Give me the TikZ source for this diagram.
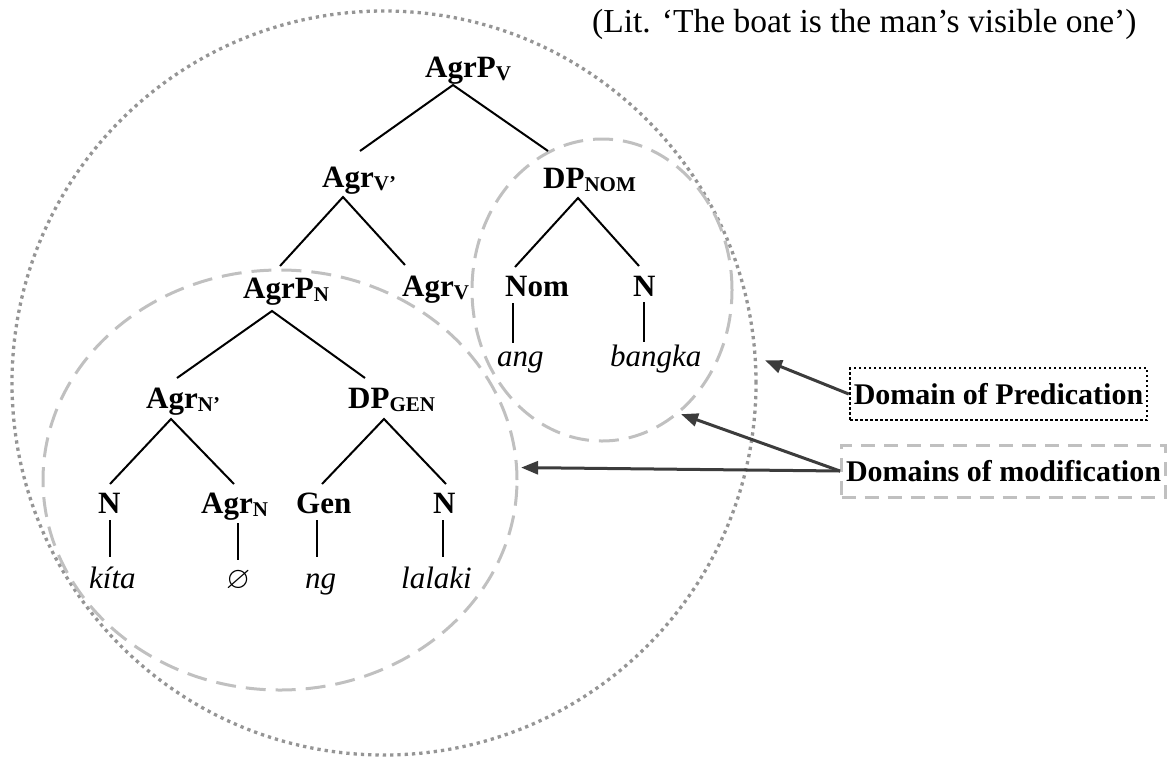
\documentclass[tikz,border=0pt]{standalone}
\usepackage{graphicx,amssymb}
\usepackage{fontspec}
\setmainfont{Liberation Serif}
\usetikzlibrary{arrows.meta,calc,shapes.geometric}
\definecolor{ringgray}{HTML}{C0C0C0}
\definecolor{dotgray}{HTML}{959595}
\definecolor{arrowgray}{HTML}{3C3C3C}
% lowered small-size subscript for category labels
\newcommand{\lo}[1]{\raisebox{-3pt}{\fontsize{21}{21}\selectfont #1}}
% empty exponent
\newcommand{\nullmark}{\scalebox{1.25}{\fontsize{24.88}{25}\selectfont$\varnothing$}}
\begin{document}
\begin{tikzpicture}[x=1pt,y=-1pt,
  cat/.style={anchor=base west,inner sep=0pt,font=\fontsize{31}{31}\selectfont\bfseries},
  word/.style={anchor=base west,inner sep=0pt,font=\fontsize{31}{31}\selectfont\itshape},
  branch/.style={line width=2pt,black},
  modring/.style={ellipse,draw=ringgray,line width=3pt,dash pattern=on 20pt off 10pt,inner sep=0pt},
  predring/.style={circle,draw=dotgray,line width=3.3pt,dash pattern=on 3.3pt off 4pt,inner sep=0pt},
  pointer/.style={draw=arrowgray,line width=3pt,-{Triangle[length=17pt,width=13pt]}},
  tag/.style={inner sep=0pt,font=\fontsize{30}{30}\selectfont\bfseries,minimum height=52pt}
]
\useasboundingbox (0,0) rectangle (1167,761);

% domain of predication and the two domains of modification
\node[predring,minimum size=744pt] (predC) at (384,383) {};
\node[modring,minimum width=474pt,minimum height=420pt] (modL) at (280,480) {};
\node[modring,minimum width=260pt,minimum height=302pt] (modR) at (602,290) {};

% free translation
\node[anchor=base west,inner sep=0pt,font=\fontsize{33.5}{33.5}\selectfont] (lit) at (592,32)
  {(Lit. ‘The boat is the man’s visible one’)};

% tree labels
\node[cat] (AgrPV) at (425,77) {AgrP\lo{V}};
\node[cat] (AgrVb) at (322,187) {Agr\lo{V’}};
\node[cat] (DPnom) at (543,188) {DP\lo{NOM}};
\node[cat] (AgrPN) at (243,298) {AgrP\lo{N}};
\node[cat] (AgrV) at (402,296) {Agr\lo{V}};
\node[cat] (Nom) at (505,296) {Nom};
\node[cat] (Nn) at (633,296) {N};
\node[word] (ang) at (497,366) {ang};
\node[word] (bangka) at (610,366) {bangka};
\node[cat] (AgrNb) at (146,408) {Agr\lo{N’}};
\node[cat] (DPgen) at (348,408) {DP\lo{GEN}};
\node[cat] (Nk) at (98,513) {N};
\node[cat] (AgrN) at (201,513) {Agr\lo{N}};
\node[cat] (Gen) at (296,513) {Gen};
\node[cat] (Nl) at (433,513) {N};
\node[word] (kita) at (89,588) {kíta};
\node[word] (null) at (226,588) {\nullmark};
\node[word] (ng) at (305,588) {ng};
\node[word] (lalaki) at (401,588) {lalaki};

% branches
\draw[branch] ($(AgrVb.base west)+(38,-36)$) -- ($(AgrPV.base west)+(28,8)$) -- ($(DPnom.base west)+(5,-37)$);
\draw[branch] ($(AgrPN.base west)+(37,-32)$) -- ($(AgrVb.base west)+(21,10)$) -- ($(AgrV.base west)+(3,-31)$);
\draw[branch] ($(Nom.base west)+(10,-29)$) -- ($(DPnom.base west)+(35,10)$) -- ($(Nn.base west)+(6,-30)$);
\draw[branch] ($(Nom.base west)+(8,7)$) -- ($(ang.base west)+(16,-23)$);
\draw[branch] ($(Nn.base west)+(11,6)$) -- ($(bangka.base west)+(34,-24)$);
\draw[branch] ($(AgrNb.base west)+(31,-30)$) -- ($(AgrPN.base west)+(29,13)$) -- ($(DPgen.base west)+(17,-30)$);
\draw[branch] ($(Nk.base west)+(12,-29)$) -- ($(AgrNb.base west)+(25,11)$) -- ($(AgrN.base west)+(33,-29)$);
\draw[branch] ($(Gen.base west)+(26,-29)$) -- ($(DPgen.base west)+(36,11)$) -- ($(Nl.base west)+(13,-29)$);
\draw[branch] ($(Nk.base west)+(12,7)$) -- ($(kita.base west)+(21,-31)$);
\draw[branch] ($(AgrN.base west)+(37,10)$) -- ($(null.base west)+(12,-28)$);
\draw[branch] ($(Gen.base west)+(21,7)$) -- ($(ng.base west)+(12,-31)$);
\draw[branch] ($(Nl.base west)+(10,7)$) -- ($(lalaki.base west)+(42,-31)$);

% legend boxes
\node[tag,draw=black,line width=2.5pt,dash pattern=on 2.5pt off 2.5pt,minimum width=297pt] (predTag) at (998.5,394) {Domain of Predication};
\node[tag,draw=ringgray,line width=3pt,dash pattern=on 14pt off 9pt,minimum width=324pt,anchor=west] (modTag) at (840,471) {Domains of modification};

% pointers
\draw[pointer,shorten >=9pt] (predTag.west) -- (predC.4);
\draw[pointer,shorten >=2pt] (modTag.west) -- (modR.-58);
\draw[pointer,shorten >=3pt] (modTag.west) -- (modL.3);
\end{tikzpicture}
\end{document}
